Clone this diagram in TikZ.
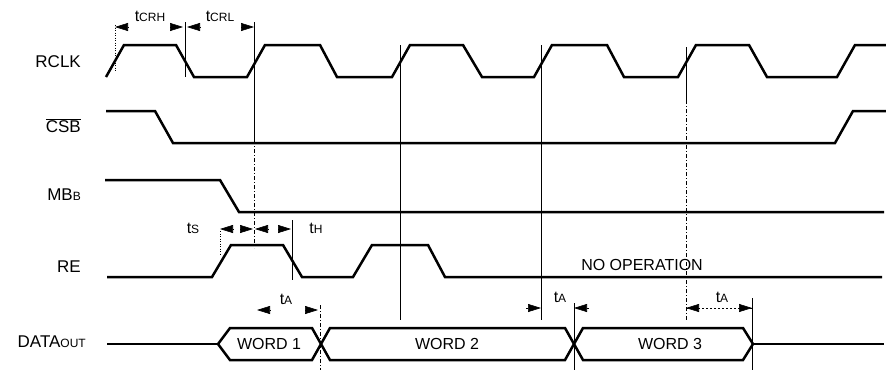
\documentclass[tikz,border=0pt]{standalone}
\usepackage{fontspec}
\setmainfont{Liberation Sans}
\usetikzlibrary{arrows.meta}
\newcommand\smallsub[1]{{\fontsize{12}{12}\selectfont #1}}
\begin{document}
\begin{tikzpicture}[x=1pt,y=-1pt,
  sig/.style={line width=2.5pt, line join=miter, line cap=butt},
  guide/.style={line width=0.7pt},
  dguide/.style={line width=0.7pt, dash pattern=on 4pt off 2pt on 1pt off 2pt},
  dotguide/.style={line width=0.7pt, dash pattern=on 1pt off 1.5pt},
  tip/.style={-{Triangle[length=13pt,width=8pt]}, line width=0.6pt},
  lbl/.style={font=\fontsize{17}{17}\selectfont, anchor=east, inner sep=0pt},
  tlbl/.style={font=\fontsize{16}{16}\selectfont, inner sep=0pt},
]
\useasboundingbox (0,0) rectangle (886,370);

% signal labels
\node[lbl] (rclk) at (81,62) {RCLK};
\node[lbl] (csb) at (81,126) {$\overline{\mbox{CSB}}$};
\node[lbl] (mbb) at (81,195) {MB\smallsub{B}};
\node[lbl] (re) at (81,267) {RE};
\node[lbl] (dout) at (86,342) {DATA\smallsub{OUT}};

% guide lines
\draw[dotguide] (115,25) -- (115,72);
\draw[guide] (185,22) -- (185,77);
\draw[guide] (254,22) -- (254,140);
\draw[dguide] (254,140) -- (254,248);
\draw[dotguide] (220,231) -- (220,256);
\draw[guide] (292,220) -- (292,280);
\draw[guide] (400,45) -- (400,320);
\draw[guide] (541,45) -- (541,320);
\draw[guide] (686,47) -- (686,100);
\draw[dguide] (686,100) -- (686,320);
\draw[dguide] (320,305) -- (320,370);
\draw[guide] (574,303) -- (574,370);
\draw[guide] (752,298) -- (752,370);

% RCLK
\draw[sig] (106,77) -- (124,45) -- (176,45) -- (194,77) -- (247,77) -- (265,45)
  -- (320,45) -- (337,77) -- (392,77) -- (410,45) -- (463,45) -- (482,77)
  -- (534,77) -- (552,45) -- (607,45) -- (624,77) -- (678,77) -- (696,45)
  -- (749,45) -- (767,77) -- (837,77) -- (855,45) -- (886,45);
% CSB
\draw[sig] (106,111) -- (155,111) -- (173,143) -- (835,143) -- (853,111) -- (886,111);
% MBB
\draw[sig] (105,180) -- (220,180) -- (239,212) -- (884,212);
% RE
\draw[sig] (107,277) -- (212,277) -- (231,245) -- (283,245) -- (302,277)
  -- (353,277) -- (372,245) -- (428,245) -- (445,277) -- (882,277);
% DATA OUT
\draw[sig] (107,344) -- (218,344);
\draw[sig] (218,344) -- (230,328) -- (312,328) -- (330,360) -- (565,360)
  -- (583,328) -- (743,328) -- (753,344);
\draw[sig] (218,344) -- (230,360) -- (312,360) -- (330,328) -- (565,328)
  -- (583,360) -- (743,360) -- (753,344);
\draw[sig] (753,344) -- (884,344);

\node[tlbl] (w1) at (269,344) {WORD 1};
\node[tlbl] (w2) at (447,344) {WORD 2};
\node[tlbl] (w3) at (670,344) {WORD 3};
\node[tlbl] (nop) at (642,265) {NO OPERATION};

% timing labels
\node[tlbl] (tcrh) at (150,16) {t\smallsub{CRH}};
\node[tlbl] (tcrl) at (220,16) {t\smallsub{CRL}};
\node[tlbl] (ts) at (193,228) {t\smallsub{S}};
\node[tlbl] (th) at (316,228) {t\smallsub{H}};
\node[tlbl] (ta1) at (286,299) {t\smallsub{A}};
\node[tlbl] (ta2) at (560,297) {t\smallsub{A}};
\node[tlbl] (ta3) at (722,297) {t\smallsub{A}};

% arrow heads
\coordinate (crhL) at (115,27); \coordinate (crhR) at (183,27);
\coordinate (crlL) at (187,27); \coordinate (crlR) at (254,27);
\draw[tip] ([xshift=13pt]crhL) -- (crhL);
\draw[tip] ([xshift=-13pt]crhR) -- (crhR);
\draw[tip] ([xshift=13pt]crlL) -- (crlL);
\draw[tip] ([xshift=-13pt]crlR) -- (crlR);

\coordinate (tsL) at (220,229); \coordinate (tsR) at (253,229);
\coordinate (thL) at (255,229); \coordinate (thR) at (291,229);
\draw[tip] ([xshift=13pt]tsL) -- (tsL);
\draw[tip] ([xshift=-13pt]tsR) -- (tsR);
\draw[tip] ([xshift=13pt]thL) -- (thL);
\draw[tip] ([xshift=-13pt]thR) -- (thR);

\coordinate (a1L) at (257,310); \coordinate (a1R) at (318,310);
\draw[tip] ([xshift=13pt]a1L) -- (a1L);
\draw[tip] ([xshift=-13pt]a1R) -- (a1R);

\coordinate (a2L) at (541,308); \coordinate (a2R) at (574,308);
\draw[tip] ([xshift=-15pt]a2L) -- (a2L);
\draw[tip] ([xshift=15pt]a2R) -- (a2R);

\coordinate (a3L) at (686,308); \coordinate (a3R) at (752,308);
\draw[line width=0.5pt, dash pattern=on 2pt off 2pt] (a3L) -- (a3R);
\draw[tip] ([xshift=13pt]a3L) -- (a3L);
\draw[tip] ([xshift=-13pt]a3R) -- (a3R);
\end{tikzpicture}
\end{document}
